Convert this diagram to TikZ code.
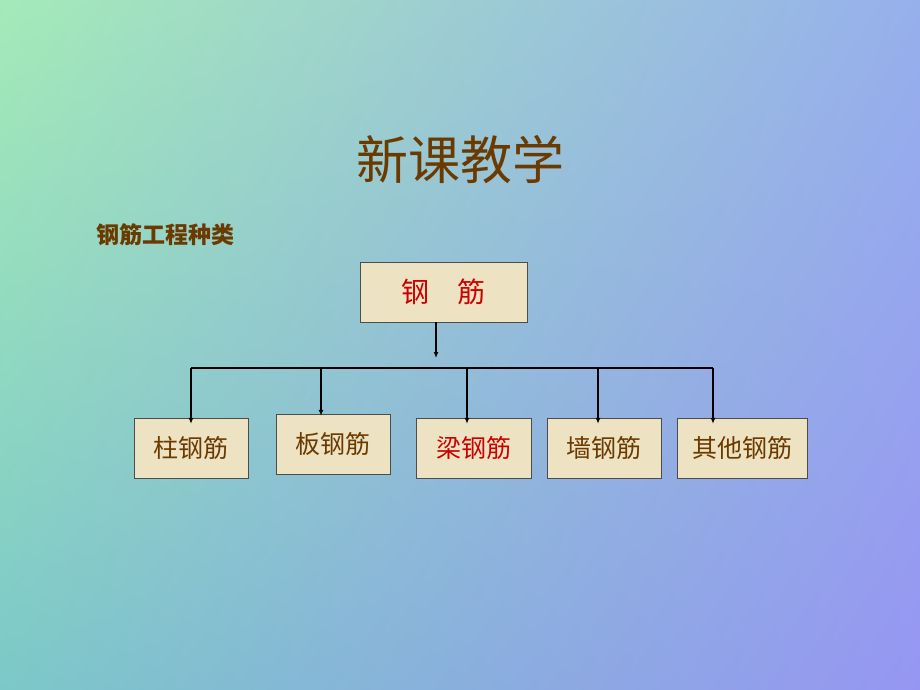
\documentclass[tikz,border=0pt]{standalone}
\usepackage{fontspec}
\newfontfamily\cjk{Noto Sans CJK SC}
\usetikzlibrary{arrows.meta,shadings}
\definecolor{brownText}{HTML}{6B3A00}
\definecolor{boxFill}{HTML}{EDE3C2}
\definecolor{redText}{HTML}{CC0000}
\definecolor{bgUL}{RGB}{164,234,184}
\definecolor{bgUR}{RGB}{150,176,236}
\definecolor{bgLL}{RGB}{124,200,200}
\definecolor{bgLR}{RGB}{150,150,242}

\begin{document}
\begin{tikzpicture}[x=1pt,y=-1pt,>={Latex[length=6pt,width=5pt]}, % pixel grid
  kind/.style={draw=black!70,fill=boxFill,minimum width=114pt,minimum height=60pt,font=\cjk\fontsize{25}{25}\selectfont,text=brownText,inner sep=0pt},
  link/.style={line width=2.5pt}]

  \shade[upper left=bgUL,upper right=bgUR,lower left=bgLL,lower right=bgLR]
        (0,0) rectangle (920,690);

  \node[text=brownText,font=\cjk\fontsize{52}{52}\selectfont](title) at (460,160) {新课教学};
  \node[anchor=west,text=brownText,font=\cjk\bfseries\fontsize{23}{23}\selectfont](sub) at (93,235) {钢筋工程种类};

  \node[kind,minimum width=167pt,text=redText,font=\cjk\fontsize{28}{28}\selectfont](root) at (443.5,292) {钢\quad 筋};
  \node[kind](zhu) at (191,448) {柱钢筋};
  \node[kind](ban) at (333,444) {板钢筋};
  \node[kind,minimum width=115pt,text=redText](liang) at (473.5,448) {梁钢筋};
  \node[kind](qiang) at (604,448) {墙钢筋};
  \node[kind,minimum width=130pt](qita) at (742,448) {其他钢筋};

  \coordinate (b1) at (191,368);
  \coordinate (b2) at (321,368);
  \coordinate (b3) at (467,368);
  \coordinate (b4) at (598,368);
  \coordinate (b5) at (713,368);
  \coordinate (top) at (436,358);

  \draw[link,->] (root.south -| top) -- (top);
  \draw[link] (b1) -- (b5);
  \draw[link,->] (b1) -- ([yshift=-6pt]zhu.north -| b1);
  \draw[link,->] (b2) -- ([yshift=-2pt]ban.north -| b2);
  \draw[link,->] (b3) -- ([yshift=-6pt]liang.north -| b3);
  \draw[link,->] (b4) -- ([yshift=-6pt]qiang.north -| b4);
  \draw[link,->] (b5) -- ([yshift=-6pt]qita.north -| b5);

\end{tikzpicture}
\end{document}
